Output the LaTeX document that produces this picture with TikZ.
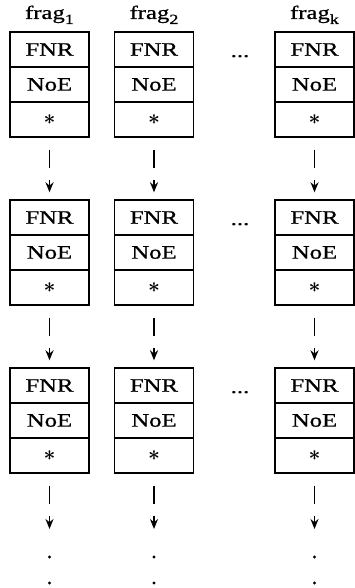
\documentclass[tikz,border=0pt]{standalone}
\usepackage{fontspec}
\setmainfont[FakeStretch=1.3,FakeBold=0.8]{Liberation Serif}
\usetikzlibrary{arrows.meta}

% lowered index after "frag"
\newcommand\fragidx[1]{\raisebox{-5pt}{\fontsize{14}{14}\selectfont #1}}
% pointer field mark
\newcommand\ptrmark{{\fontsize{21}{21}\selectfont\boldmath$\ast$}}

\begin{document}
\begin{tikzpicture}[x=1pt,y=-1pt,
  cell/.style={draw,line width=1.4pt,minimum width=79pt,minimum height=35pt,
    inner sep=0pt,font=\fontsize{19}{19}\selectfont},
  lab/.style={inner sep=0pt,anchor=base,font=\fontsize{19}{19}\selectfont},
  link/.style={line width=1.8pt,-{Stealth[length=10pt,width=8pt]},
    shorten <=12pt,shorten >=7pt,dash pattern=on 18pt off 12pt on 40pt},
  dot/.style={circle,fill,inner sep=0pt,minimum size=3.2pt}]
\useasboundingbox (0,0) rectangle (355,588);

% fragment headings and gaps between columns
\node[lab] (t1) at (49.5,19) {frag\fragidx{1}};
\node[lab] (t2) at (154,19) {frag\fragidx{2}};
\node[lab] (t3) at (314.5,19) {frag\fragidx{k}};
\foreach \row/\base in {1/57,2/225,3/393}
  \node[lab] (gap\row) at (240,\base) {...};

% three-field records: FNR / NoE / pointer
\foreach \col/\cx in {1/49.5,2/154,3/314.5} {
  \foreach \row/\top in {1/32,2/200,3/368} {
    \node[cell] (f\col-\row-a) at (\cx,\top+17.5) {FNR};
    \node[cell] (f\col-\row-b) at (\cx,\top+52.5) {NoE};
    \node[cell] (f\col-\row-c) at (\cx,\top+87.5) {\ptrmark};
  }
  \coordinate (end\col) at (\cx,536);
  \node[dot] (d\col-1) at (\cx,557) {};
  \node[dot] (d\col-2) at (\cx,583) {};
  % pointer chains
  \draw[link] (f\col-1-c.south) -- (f\col-2-a.north);
  \draw[link] (f\col-2-c.south) -- (f\col-3-a.north);
  \draw[link] (f\col-3-c.south) -- (end\col);
}
\end{tikzpicture}
\end{document}
